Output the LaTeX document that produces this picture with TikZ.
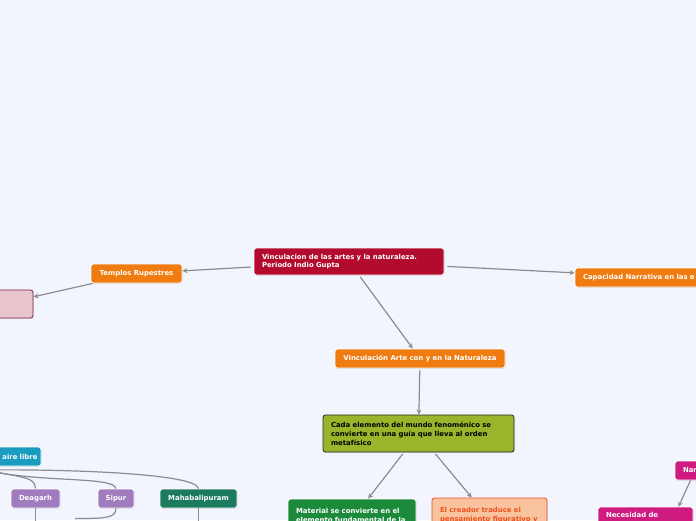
\documentclass[tikz,border=0pt]{standalone}
\usepackage{fontspec}
\setmainfont{DejaVu Sans}
\usepackage{tikz}
\usetikzlibrary{shadows}

\definecolor{fondo}{HTML}{F2F5FD}
\definecolor{rojo}{HTML}{B30B2D}
\definecolor{naranja}{HTML}{EF7B11}
\definecolor{rosa}{HTML}{E8C5CC}
\definecolor{rosaborde}{HTML}{7B2337}
\definecolor{oliva}{HTML}{9AB52B}
\definecolor{verde}{HTML}{1C8A3B}
\definecolor{durazno}{HTML}{F8C39E}
\definecolor{rojizo}{HTML}{F0501C}
\definecolor{turquesa}{HTML}{1A9BC0}
\definecolor{morado}{HTML}{A07CBF}
\definecolor{verdeosc}{HTML}{1C7A5F}
\definecolor{magenta}{HTML}{CF1A7F}
\definecolor{linea}{HTML}{8C8C8C}

\begin{document}
\begin{tikzpicture}[x=1pt, y=-1pt, >=stealth,
    caja/.style={rounded corners=2.5pt, draw=white, line width=0.8pt,
        text=white, inner sep=0pt,
        font=\fontsize{6.9}{8.8}\selectfont\bfseries,
        drop shadow={opacity=0.22, shadow xshift=0.7pt, shadow yshift=-0.9pt}},
    flecha/.style={->, draw=linea, line width=1.2pt},
    rama/.style={draw=linea, line width=1.2pt}]

    % Fondo y marco
    \useasboundingbox (0,0) rectangle (696,520);
    \clip (0,0) rectangle (696,520);
    \fill[fondo] (0,0) rectangle (696,520);

    % Nodo central
    \node[caja, fill=rojo, minimum width=190pt, minimum height=27pt,
        text width=174pt, align=left] (central) at (349,261.5)
        {Vinculacion de las artes y la naturaleza.\\Periodo Indio Gupta};

    % Primer nivel
    \node[caja, fill=naranja, minimum width=91pt, minimum height=19pt] (templos) at (136.5,273.5) {Templos Rupestres};
    \node[caja, fill=naranja, minimum width=185pt, minimum height=19pt,
        text width=169pt, align=left] (capacidad) at (667.5,277.5) {Capacidad Narrativa en las e};
    \node[caja, fill=naranja, minimum width=170pt, minimum height=19pt] (vinculacion) at (420,358.5) {Vinculación Arte con y en la Naturaleza};

    % Caja rosa (izquierda)
    \node[caja, fill=rosa, draw=rosaborde, minimum width=63pt, minimum height=28pt] (rosa) at (1.5,304) {};

    % Cada elemento...
    \node[caja, fill=oliva, draw=black!85, text=black, minimum width=191pt, minimum height=37pt,
        text width=175pt, align=left] (cada) at (418.5,433.5)
        {Cada elemento del mundo fenoménico se\\convierte en una guía que lleva al orden\\metafísico};

    % Hijos de "Cada elemento"
    \node[caja, fill=verde, minimum width=128pt, minimum height=41pt,
        text width=112pt, align=left] (material) at (352,519.5)
        {Material se convierte en el\\elemento fundamental de la\\\mbox{}};
    \node[caja, fill=durazno, draw=rojizo, text=rojizo, minimum width=115pt, minimum height=42pt,
        text width=99pt, align=left] (creador) at (489.5,519)
        {El creador traduce el\\pensamiento figurativo y\\\mbox{}};

    % Templos al aire libre
    \node[caja, fill=turquesa, minimum width=81pt, minimum height=19pt,
        text width=74pt, align=right] (aire) at (0.5,456.5) {aire libre};
    \node[caja, fill=morado, minimum width=49pt, minimum height=19pt] (deagarh) at (35.5,498.5) {Deagarh};
    \node[caja, fill=morado, minimum width=36pt, minimum height=19pt] (sipur) at (116,498.5) {Sipur};
    \node[caja, fill=verdeosc, minimum width=77pt, minimum height=19pt] (maha) at (198.5,498.5) {Mahabalipuram};

    % Derecha abajo
    \node[caja, fill=magenta, minimum width=65pt, minimum height=19pt,
        text width=49pt, align=left] (nar) at (707.5,470.5) {Nar};
    \node[caja, fill=magenta, minimum width=95pt, minimum height=33pt,
        text width=79pt, align=left] (necesidad) at (645.5,523.5) {Necesidad de\\\mbox{}\\\mbox{}};

    % Conectores con flecha
    \draw[flecha, shorten <=3pt] (central) -- (templos);
    \draw[flecha] (templos) -- (rosa);
    \draw[flecha, shorten <=3pt] (central) -- (capacidad);
    \draw[flecha, shorten <=2pt] (central) -- (vinculacion);
    \draw[flecha, shorten <=2pt] (vinculacion) -- (cada);
    \draw[flecha, shorten <=2pt] (cada) -- (material);
    \draw[flecha, shorten <=2pt] (cada) -- (creador);
    \draw[flecha] ([xshift=-17pt]nar.south) -- ([xshift=33pt]necesidad.north);

    % Ramas curvas desde "aire libre"
    \coordinate (nudo) at (-15,470);
    \draw[rama] (nudo) .. controls (25,478) and (35,477) .. (deagarh.north);
    \draw[rama] (nudo) .. controls (40,483) and (114,476) .. (sipur.north);
    \draw[rama] (nudo) .. controls (60,469) and (197,473) .. (maha.north);

    % Ramas hacia abajo
    \coordinate (finD) at (35.5,525);
    \coordinate (finS) at (75,518.5);
    \coordinate (finM) at (198.5,525);
    \draw[rama] (deagarh.south) -- (finD);
    \draw[rama] (sipur.south) .. controls (116,518) and (106,518.5) .. (finS);
    \draw[rama] (maha.south) -- (finM);
\end{tikzpicture}
\end{document}
